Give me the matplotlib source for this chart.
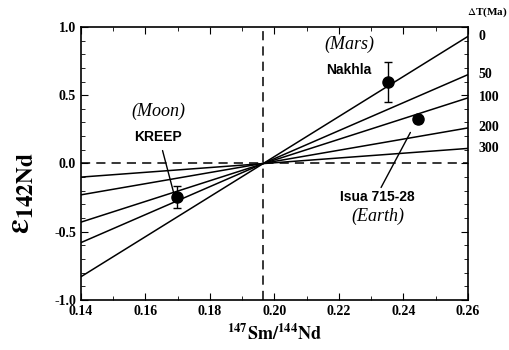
import numpy as np
import matplotlib.pyplot as plt
from matplotlib.ticker import MultipleLocator

# isochron reference lines, eps142Nd at x = 0.14 and x = 0.26
x_ends = [0.14, 0.26]
dt_labels = ["0", "50", "100", "200", "300"]
eps_left = [-0.83, -0.58, -0.43, -0.23, -0.10]
eps_right = [0.93, 0.65, 0.48, 0.26, 0.11]
chur_sm = 0.1966

# samples
names = ["KREEP", "Nakhla", "Isua 715-28"]
sm_nd = [0.1698, 0.2352, 0.2446]
eps = [-0.245, 0.595, 0.325]
eps_err = [0.08, 0.145, 0.025]

plt.rcParams['font.family'] = ['Liberation Serif', 'DejaVu Serif']
plt.rcParams['mathtext.fontset'] = 'stix'
fig = plt.figure(figsize=(5.09, 3.5), dpi=100)
ax = fig.add_axes([0.159, 0.143, 0.760, 0.780])

for yl, yr in zip(eps_left, eps_right):
    ax.plot(x_ends, [yl, yr], color='black', lw=1.1)

ax.axhline(0, color='black', ls=(0, (6, 4)), lw=1.1)
ax.axvline(chur_sm, color='black', ls=(0, (6, 4)), lw=1.1)

ax.errorbar(sm_nd, eps, yerr=eps_err, fmt='o', color='black', ms=8,
            capsize=3, elinewidth=1, capthick=1)

ax.set_xlim(0.14, 0.26)
ax.set_ylim(-1.0, 1.0)
ax.xaxis.set_major_locator(MultipleLocator(0.02))
ax.xaxis.set_minor_locator(MultipleLocator(0.01))
ax.yaxis.set_major_locator(MultipleLocator(0.5))
ax.yaxis.set_minor_locator(MultipleLocator(0.1))
ax.xaxis.set_major_formatter(plt.FuncFormatter(lambda v, p: f"{v:.2f}"))
ax.yaxis.set_major_formatter(plt.FuncFormatter(lambda v, p: f"{v:.1f}"))
ax.tick_params(which='both', direction='in', top=True, right=True)
ax.tick_params(which='major', length=5, labelsize=10)
ax.tick_params(which='minor', length=3)
for lab in ax.get_xticklabels() + ax.get_yticklabels():
    lab.set_fontweight('bold')
for s in ax.spines.values():
    s.set_linewidth(1.2)

ax.set_xlabel(r"$\mathbf{^{147}Sm/^{144}Nd}$", fontsize=13, labelpad=4)
ax.set_ylabel(r"$\mathbf{\varepsilon}_{\mathbf{142Nd}}$", fontsize=24)
ax.yaxis.set_label_coords(-0.118, 0.39)

# right-hand age labels
for lab, yr in zip(dt_labels, eps_right):
    ax.text(1.028, yr, lab, transform=ax.get_yaxis_transform(), fontsize=10,
            fontweight='bold', va='center', ha='left')
fig.text(0.997, 0.965, r"$\Delta$T(Ma)", fontsize=8, fontweight='bold',
         ha='right', va='center')

# annotations
sans = ['Liberation Sans', 'DejaVu Sans']
ax.text(0.1639, 0.196, "KREEP", family=sans, fontweight='bold', fontsize=10,
        ha='center', va='center')
ax.text(0.1639, 0.38, "(Moon)", style='italic', fontsize=13, ha='center', va='center')
ax.annotate("", xy=(0.1691, -0.245), xytext=(0.1651, 0.114),
            arrowprops=dict(arrowstyle='-', color='black', lw=1))

ax.text(0.2230, 0.685, "Nakhla", family=sans, fontweight='bold', fontsize=10,
        ha='center', va='center')
ax.text(0.2232, 0.87, "(Mars)", style='italic', fontsize=13, ha='center', va='center')

ax.text(0.2318, -0.245, "Isua 715-28", family=sans, fontweight='bold', fontsize=10,
        ha='center', va='center')
ax.text(0.2322, -0.39, "(Earth)", style='italic', fontsize=13, ha='center', va='center')
ax.annotate("", xy=(0.2426, 0.245), xytext=(0.2327, -0.194),
            arrowprops=dict(arrowstyle='-', color='black', lw=1))

fig.savefig("out.png", dpi=100)
